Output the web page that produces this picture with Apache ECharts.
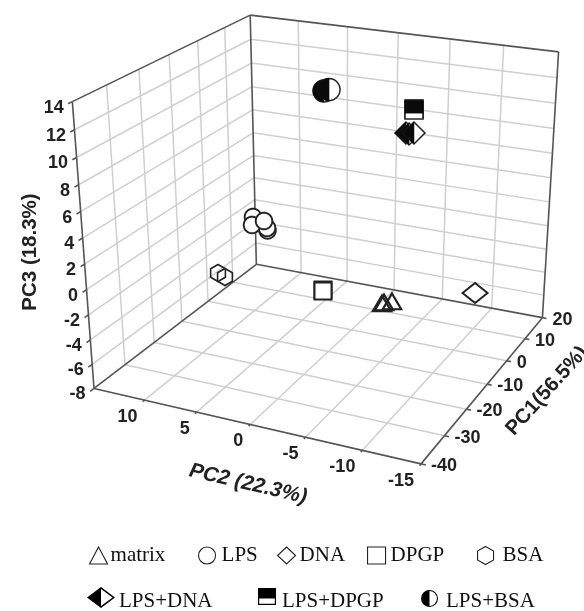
<!DOCTYPE html>
<html><head><meta charset="utf-8">
<style>html,body{margin:0;padding:0;background:#fff}#c{width:584px;height:611px}</style>
<script src="https://cdn.jsdelivr.net/npm/echarts@6/dist/echarts.min.js"></script>
</head><body><div id="c"></div>
<script>
// Axis ticks
const pc1Ticks=[-40,-30,-20,-10,0,10,20];
const pc2Ticks=[15,10,5,0,-5,-10,-15];
const pc3Ticks=[-8,-6,-4,-2,0,2,4,6,8,10,12,14];
// Sample scores [PC1, PC2, PC3]
const matrixScores=[[5,-2.15,-6.18],[5,-2.94,-5.96],[5,-1.95,-6.30]];
const lpsScores=[[0,8.45,-0.72],[0,8.50,-0.52],[0,9.92,0.21],[0,10.04,-0.49],[0,8.79,0.03]];
const dnaScores=[[5,-10.93,-3.86]];
const dpgpScores=[[5,4.05,-6.06],[5,4.05,-6.15]];
const bsaScores=[[5,14.46,-6.57],[5,15.21,-6.33]];
const lpsDnaScores=[[-5,-6.05,9.79],[-5,-6.33,9.75],[-5,-6.77,9.88]];
const lpsDpgpScores=[[-5,-6.73,11.68],[-5,-6.73,11.60]];
const lpsBsaScores=[[-5,1.49,12.10],[-5,1.02,12.26]];

// Camera calibration: axis box corners and tick positions -> canvas pixels
const anchors=[[-40,15,14,72,102],[-40,15,-8,95,388],[20,15,14,250,15],[20,15,-8,256,264],[20,-15,14,559,52],[20,-15,-8,540,318],[-40,-15,-8,420,463],
[-40,10,-8,144,401],[-40,5,-8,197,413],[-40,0,-8,250,424],[-40,-5,-8,305,437],[-40,-10,-8,361,451],
[-30,-15,-8,445,435],[-20,-15,-8,467,409],[-10,-15,-8,489,384],[0,-15,-8,508,361],[10,-15,-8,526,339],
[-30,15,14,107,85],[-20,15,14,138,70],[-10,15,14,170,54],[0,15,14,198,40],[10,15,14,225,27],
[20,10,14,298,21],[20,5,14,348,27],[20,0,14,398,33],[20,-5,14,450,39],[20,-10,14,503,45]];
const S=600;
const nz=(a,b,c)=>[(a+40)/60,(15-b)/30,(c+8)/22];
function fit(){const A=[],B=[];for(const r of anchors){const [u,v,w]=nz(r[0],r[1],r[2]);const x=r[3]/S,y=r[4]/S;
A.push([u,v,w,1,0,0,0,0,-x*u,-x*v,-x*w]);B.push(x);A.push([0,0,0,0,u,v,w,1,-y*u,-y*v,-y*w]);B.push(y);}
const n=11,M=[];for(let i=0;i<n;i++){M.push(new Array(n+1).fill(0));for(let k=0;k<A.length;k++){for(let j=0;j<n;j++)M[i][j]+=A[k][i]*A[k][j];M[i][n]+=A[k][i]*B[k];}}
for(let i=0;i<n;i++){let p=i;for(let r=i+1;r<n;r++)if(Math.abs(M[r][i])>Math.abs(M[p][i]))p=r;[M[i],M[p]]=[M[p],M[i]];
for(let r=0;r<n;r++)if(r!==i){const f=M[r][i]/M[i][i];for(let c=i;c<=n;c++)M[r][c]-=f*M[i][c];}}
return M.map((r,i)=>r[n]/r[i]);}
const m=fit();
function project(a,b,c){const [u,v,w]=nz(a,b,c);const d=m[8]*u+m[9]*v+m[10]*w+1;return [S*(m[0]*u+m[1]*v+m[2]*w+m[3])/d,S*(m[4]*u+m[5]*v+m[6]*w+m[7])/d];}

const chart=echarts.init(document.getElementById('c'));
function segs(list){return list.map(([p,q])=>[...project(...p),...project(...q)]);}
const gridList=[],frameList=[];
for(const t of pc1Ticks.slice(1,-1)){gridList.push([[t,15,-8],[t,15,14]],[[t,15,-8],[t,-15,-8]]);}
for(const t of pc2Ticks.slice(1,-1)){gridList.push([[20,t,-8],[20,t,14]],[[-40,t,-8],[20,t,-8]]);}
for(const t of pc3Ticks.slice(1,-1)){gridList.push([[-40,15,t],[20,15,t]],[[20,15,t],[20,-15,t]]);}
frameList.push([[-40,15,-8],[-40,15,14]],[[20,15,-8],[20,15,14]],[[20,-15,-8],[20,-15,14]],
 [[-40,15,14],[20,15,14]],[[20,15,14],[20,-15,14]],
 [[-40,15,-8],[20,15,-8]],[[20,15,-8],[20,-15,-8]],[[-40,15,-8],[-40,-15,-8]],[[-40,-15,-8],[20,-15,-8]]);
for(const t of pc3Ticks)frameList.push([[-40,15,t],[-41.2,15,t]]);
for(const t of pc2Ticks.slice(1))frameList.push([[-40,t,-8],[-40.6,t,-8]]);
for(const t of pc1Ticks)frameList.push([[t,-15,-8],[t,-15.4,-8]]);

const lineRender=(color,w)=>(p,api)=>{const a=api.coord([api.value(0),api.value(1)]),b=api.coord([api.value(2),api.value(3)]);
 return {type:'line',shape:{x1:a[0],y1:a[1],x2:b[0],y2:b[1]},style:{stroke:color,lineWidth:w}};};
const labelRender=(dx,dy,align)=>(p,api)=>{const a=api.coord([api.value(0),api.value(1)]);
 return {type:'text',x:a[0]+dx,y:a[1]+dy,style:{text:String(api.value(2)),align,verticalAlign:'middle',font:'bold 18px "Liberation Sans"',fill:'#222'}};};

// marker geometry
const circlePts=(r,f,t)=>{const o=[];for(let i=0;i<=40;i++){const q=f+(t-f)*i/40;o.push([r*Math.cos(q),r*Math.sin(q)]);}return o;};
const shapes={
 triangle:r=>({outline:[[0,-r],[r*1.08,r*.85],[-r*1.08,r*.85]]}),
 circle:r=>({outline:circlePts(r,0,2*Math.PI)}),
 diamond:r=>({outline:[[-r*1.25,0],[0,-r],[r*1.25,0],[0,r]]}),
 square:r=>({outline:[[-r,-r],[r,-r],[r,r],[-r,r]]}),
 hexagon:r=>({outline:[[0,-r],[r*.87,-r/2],[r*.87,r/2],[0,r],[-r*.87,r/2],[-r*.87,-r/2]]}),
 halfDiamond:r=>({outline:[[-r,0],[0,-r],[r,0],[0,r]],half:[[-r,0],[0,-r],[0,r]]}),
 halfSquare:r=>({outline:[[-r,-r],[r,-r],[r,r],[-r,r]],half:[[-r,-r],[r,-r],[r,r*.35],[-r,r*.35]]}),
 halfCircle:r=>({outline:circlePts(r,0,2*Math.PI),half:circlePts(r,Math.PI/2,Math.PI*1.5)})
};
const markRender=(kind,r,fill,lw)=>(p,api)=>{
 const px=project(api.value(0),api.value(1),api.value(2));const c=api.coord(px);const s=shapes[kind](r);
 const off=pts=>pts.map(q=>[c[0]+q[0],c[1]+q[1]]);
 const children=[{type:'polygon',shape:{points:off(s.outline)},style:{fill,stroke:'#222',lineWidth:lw}}];
 if(s.half)children.push({type:'polygon',shape:{points:off(s.half)},style:{fill:'#0a0a0a',stroke:'#0a0a0a',lineWidth:.5}});
 return {type:'group',children};};
const mark=(name,data,kind,r,fill,lw)=>({name,type:'custom',data,renderItem:markRender(kind,r,fill,lw),encode:{x:0,y:1},silent:true,z:5});

const lineSeries=(data,c,w,z)=>({type:'custom',data,renderItem:lineRender(c,w),silent:true,z,clip:false});
const project2=(a,b,c,v)=>[...project(a,b,c),v];
const labels=(data,dx,dy,al)=>({type:'custom',data,renderItem:labelRender(dx,dy,al),silent:true,z:3,encode:{x:0,y:1}});

const txt='#111';
const legendItem=(name,left,top,icon,w,h,style,pl)=>({left,top,padding:0,selectedMode:false,itemWidth:w,itemHeight:h,
 textStyle:{fontFamily:'Liberation Serif',fontSize:21,color:txt,padding:[0,0,0,pl]},
 data:[{name,icon,itemStyle:style}]});
const thin={color:'#fff',borderColor:'#222',borderWidth:1.1};
const solid={color:'#000',borderWidth:0};
const hexIcon='path://M9,0 L17,4.5 L17,13.5 L9,18 L1,13.5 L1,4.5 Z';
// the zero-area final sub-path lifts each icon above its label's centre line
const halfDia='path://M0,10.5 L14,0 L28,10.5 L14,21 Z M14,2 L14,19 L25.6,10.5 Z M0,28 L0,28 Z';
const halfSq='path://M0,0 L18,0 L18,17 L0,17 Z M1.2,10.5 L1.2,15.8 L16.8,15.8 L16.8,10.5 Z M0,26 L0,26 Z';
const halfCi='path://M0,8.5 A8.5,8.5 0 1,1 17,8.5 A8.5,8.5 0 1,1 0,8.5 Z M8.5,1.1 L8.5,15.9 A7.4,7.4 0 0 0 8.5,1.1 Z M0,22 L0,22 Z';

chart.setOption({animation:false,textStyle:{fontFamily:'Liberation Sans'},
grid:{left:0,right:0,top:0,bottom:0},
xAxis:{type:'value',min:0,max:584,show:false},yAxis:{type:'value',min:0,max:611,inverse:true,show:false},
legend:[
 legendItem('matrix',89,545,'triangle',18,17,thin,-2),
 legendItem('LPS',198,545,'circle',17,17,thin,1),
 legendItem('DNA',277,545,'diamond',18,17,thin,-1),
 legendItem('DPGP',367,545,'rect',18,17,thin,0),
 legendItem('BSA',477,545,hexIcon,18,18,thin,3),
 legendItem('LPS+DNA',87,587,halfDia,28,28,solid,-1),
 legendItem('LPS+DPGP',258,588,halfSq,18,26,solid,1),
 legendItem('LPS+BSA',421,590,halfCi,17,22,solid,3)
],
series:[
 lineSeries(segs(gridList),'#cfcfcf',1.5,1),
 lineSeries(segs(frameList),'#555',1.6,2),
 labels(pc3Ticks.map(t=>project2(-40,15,t,t)),-8.5,6,'right'),
 labels(pc2Ticks.slice(1).map(t=>project2(-40,t,-8,t)),-7,17,'right'),
 labels(pc1Ticks.map(t=>project2(t,-15,-8,t)),10,2,'left'),
 mark('matrix',matrixScores,'triangle',8.5,'none',2.2),
 mark('LPS',lpsScores,'circle',8.3,'#fff',1.9),
 mark('DNA',dnaScores,'diamond',10,'#fff',2),
 mark('DPGP',dpgpScores,'square',8.5,'#fff',2),
 mark('BSA',bsaScores,'hexagon',8.5,'none',1.6),
 mark('LPS+DNA',lpsDnaScores,'halfDiamond',11,'#fff',1.5),
 mark('LPS+DPGP',lpsDpgpScores,'halfSquare',9,'#fff',1.6),
 mark('LPS+BSA',lpsBsaScores,'halfCircle',11,'#fff',1.5)
],
graphic:[
 {type:'text',x:30,y:252,rotation:Math.PI/2,style:{text:'PC3 (18.3%)',font:'bold 20.5px "Liberation Sans"',fill:'#222',align:'center',verticalAlign:'middle'}},
 {type:'text',x:248,y:484,rotation:-0.23,style:{text:'PC2 (22.3%)',font:'italic bold 21px "Liberation Sans"',fill:'#222',align:'center',verticalAlign:'middle'}},
 {type:'text',x:547,y:391,rotation:0.84,style:{text:'PC1(56.5%)',font:'bold 20.5px "Liberation Sans"',fill:'#222',align:'center',verticalAlign:'middle'}}
]});
</script></body></html>
